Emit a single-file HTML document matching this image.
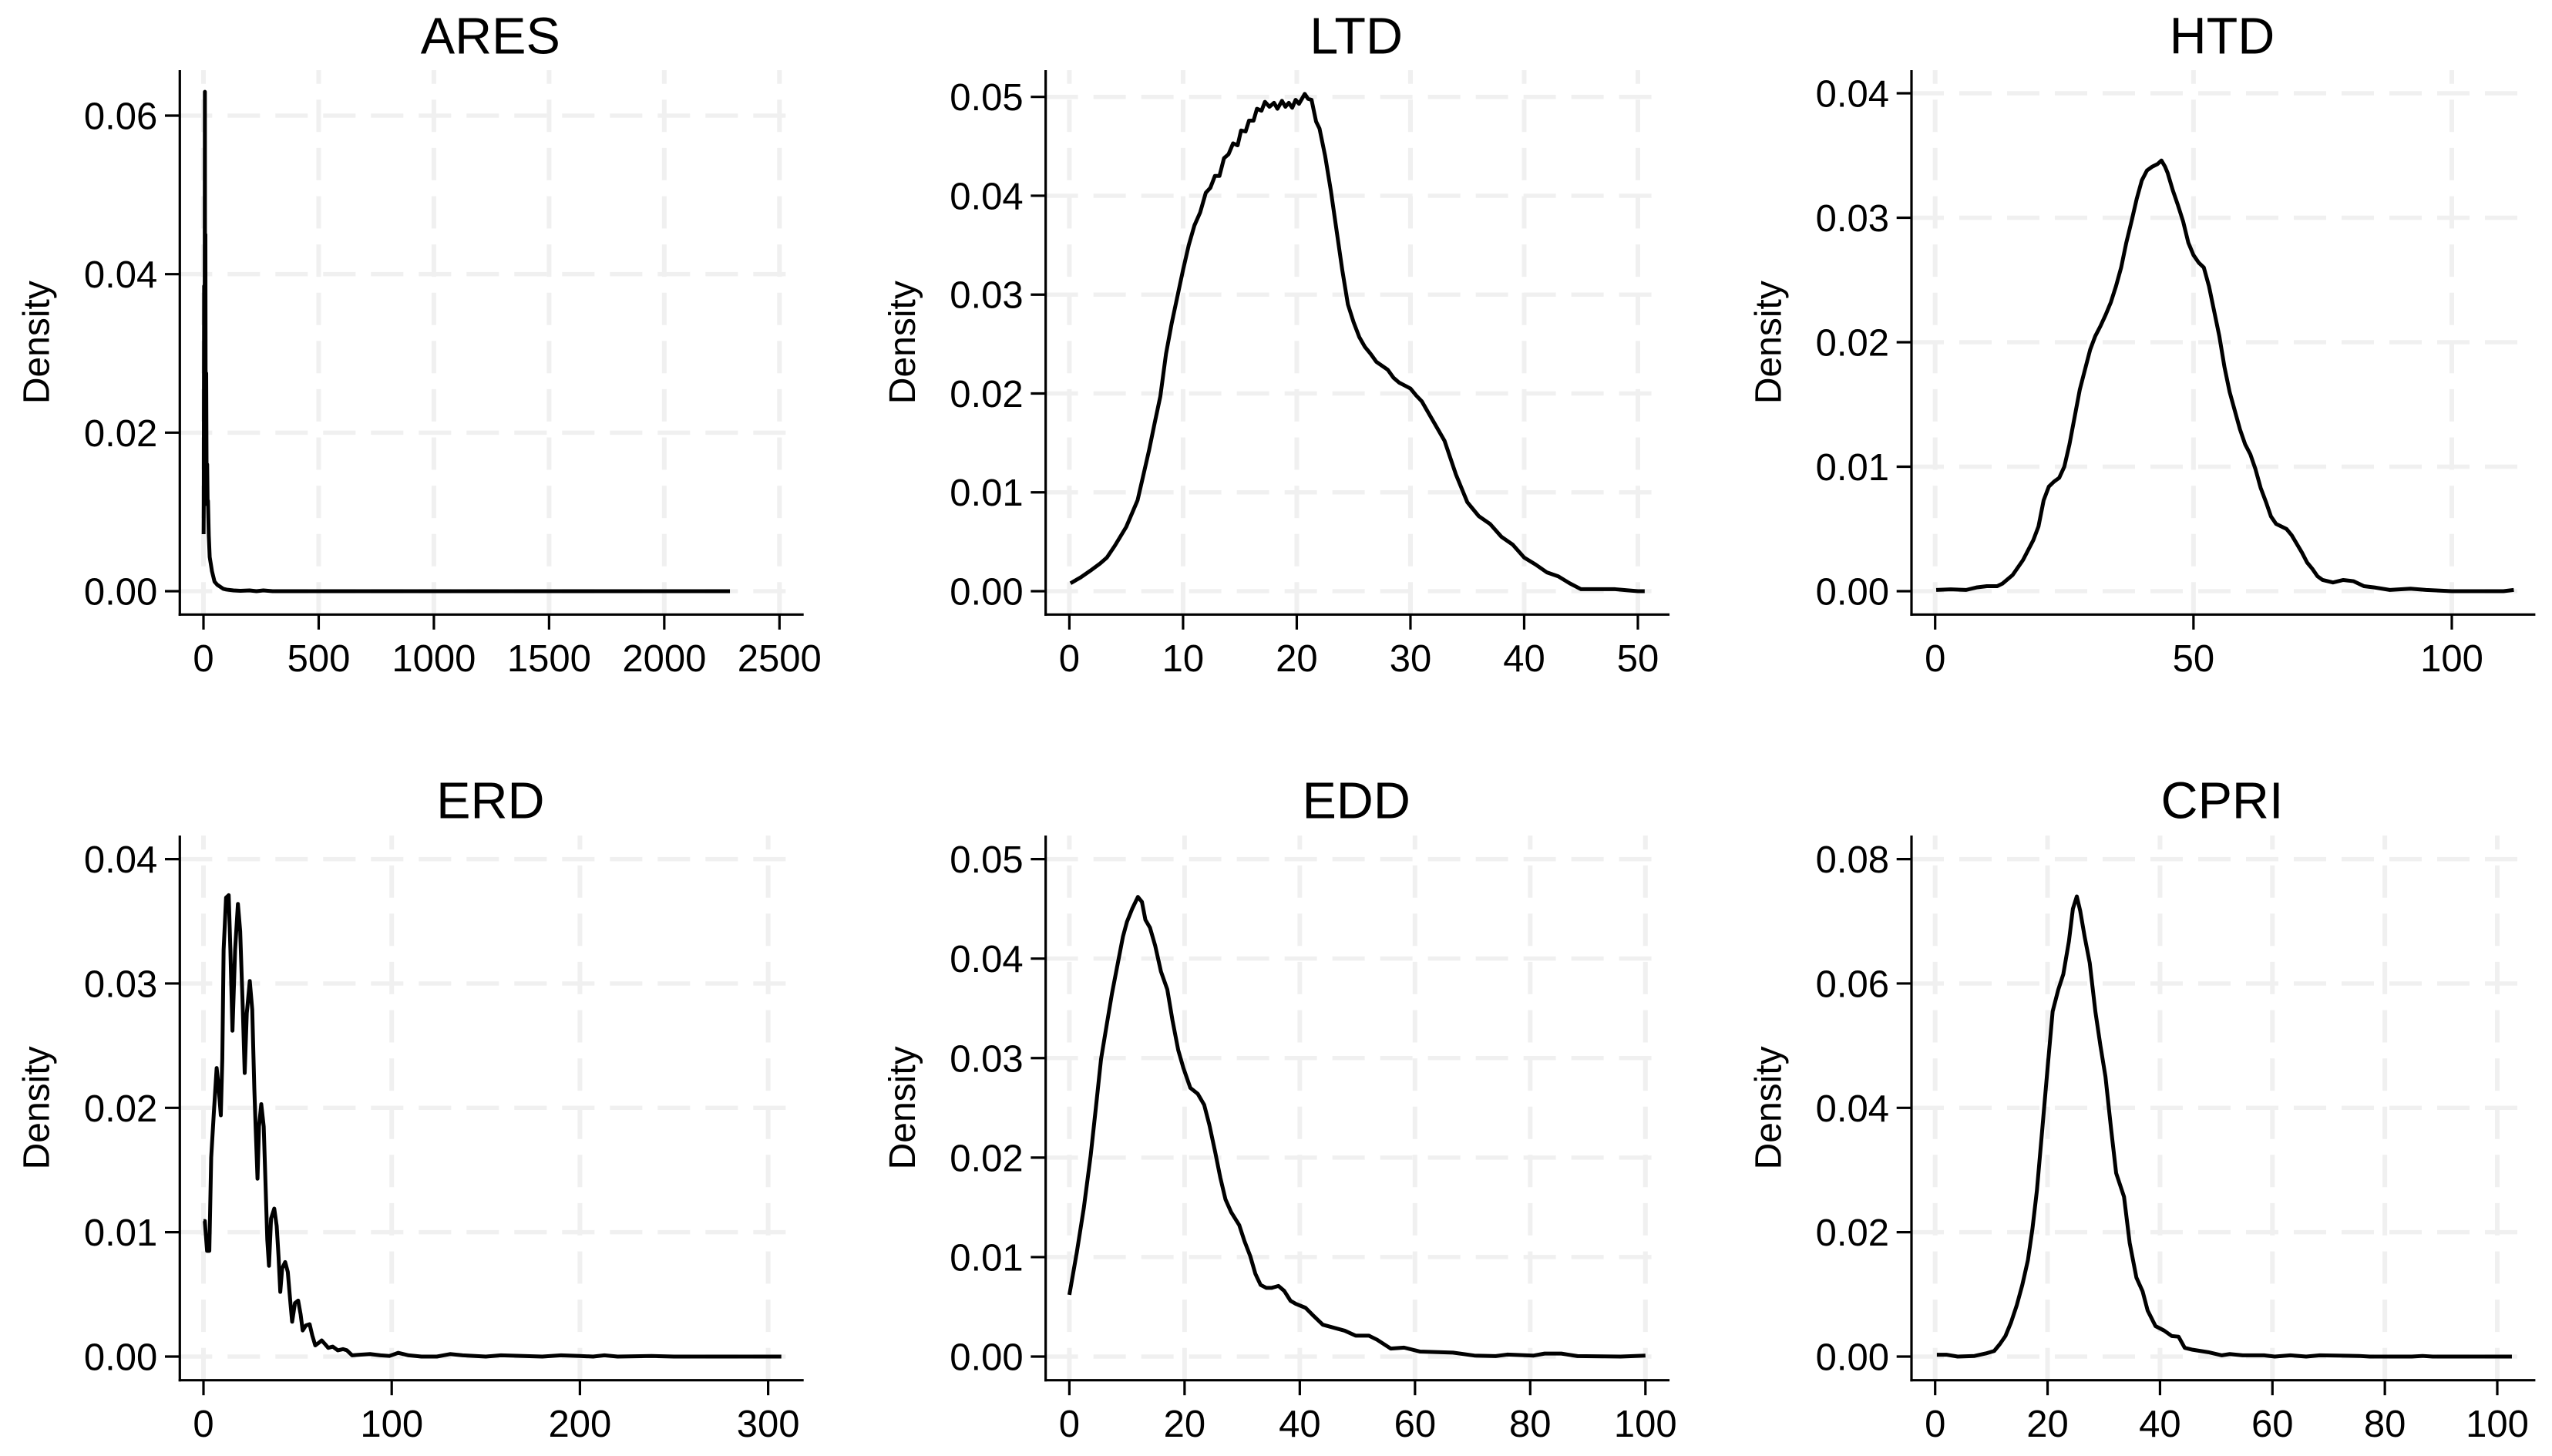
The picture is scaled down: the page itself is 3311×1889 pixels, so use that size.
<!DOCTYPE html>
<html lang="en">
<head>
<meta charset="utf-8">
<title>Density plots</title>
<style>
html,body{margin:0;padding:0;background:#fff;}
svg{display:block;font-family:"Liberation Sans",Arial,sans-serif;}
</style>
</head>
<body>
<svg id="figure" xmlns="http://www.w3.org/2000/svg" width="3311" height="1889" viewBox="0 0 3311 1889">
<rect x="0" y="0" width="3311" height="1889" fill="#ffffff"></rect>
</svg>
<script>
// ---------- chart data ----------
const aresX = [0.5,1.2,2.8,4.5,6.1,7.3,8.4,10,11.8,14,16,18,19.5,23,27,37,48,60,86,100,130,160,200,230,260,300,600,1200,2285];
const aresY = [0.0072,0.011,0.0385,0.012,0.063,0.011,0.045,0.011,0.0275,0.011,0.016,0.011,0.0114,0.007,0.0043,0.0025,0.0012,0.0008,0.0003,0.0002,0.0001,0.00005,0.0001,0,0.0001,0,0,0,0];
const aresXTicks = ["0","500","1000","1500","2000","2500"];
const aresYTicks = ["0.00","0.02","0.04","0.06"];

const ltdX = [0.1,1,2,2.7,3.3,4,5,6,6.5,7,7.5,8,8.5,9,9.5,10,10.5,11,11.5,12,12.4,12.8,13.2,13.6,14,14.4,14.8,15.1,15.5,15.8,16.2,16.5,16.9,17.2,17.6,18,18.3,18.7,19,19.3,19.6,19.9,20.2,20.7,21,21.3,21.7,22,22.5,23,23.5,24,24.5,25,25.5,26,26.5,27,27.5,28,28.5,29,29.5,30,30.5,31,31.5,32,33,34,35,36,37,38,39,40,41,42,43,44,45,46,47,48,49,50,50.6];
const ltdY = [0.0008,0.0014,0.0022,0.0028,0.0034,0.0046,0.0065,0.0092,0.0117,0.0142,0.017,0.0197,0.024,0.0271,0.0298,0.0325,0.035,0.037,0.0383,0.0403,0.0408,0.042,0.042,0.0438,0.0442,0.0453,0.0451,0.0466,0.0465,0.0476,0.0476,0.0488,0.0486,0.0495,0.049,0.0494,0.0488,0.0496,0.049,0.0494,0.0489,0.0497,0.0493,0.0503,0.0498,0.0497,0.0475,0.0468,0.044,0.0405,0.0365,0.0325,0.029,0.0272,0.0257,0.0247,0.024,0.0232,0.0228,0.0224,0.0216,0.0211,0.0208,0.0205,0.0198,0.0192,0.0182,0.0172,0.0152,0.0118,0.009,0.0076,0.0068,0.0055,0.0047,0.0034,0.0027,0.0019,0.0015,0.0008,0.0002,0.0002,0.0002,0.0002,0.0001,0,0];
const ltdXTicks = ["0","10","20","30","40","50"];
const ltdYTicks = ["0.00","0.01","0.02","0.03","0.04","0.05"];

const htdX = [0.2,3,6,8,10,12,13,15,17,19,20,21,22,23,24,25,26,27,28,29,30,31,32,33,34,35,36,37,38,39,40,41,42,43,43.8,44.5,45,46,47,48,49,50,51,52,53,54,55,56,57,58,59,60,61,62,63,64,65,66,67,68,69,70,71,72,73,74,75,77,79,81,83,85,88,92,95,100,105,110,112];
const htdY = [0.0001,0.00015,0.0001,0.0003,0.0004,0.0004,0.0006,0.0013,0.0025,0.0041,0.0052,0.0073,0.0084,0.0088,0.0091,0.01,0.0118,0.014,0.0162,0.0178,0.0194,0.0205,0.0213,0.0222,0.0232,0.0245,0.026,0.028,0.0297,0.0315,0.033,0.0338,0.0341,0.0343,0.0346,0.0341,0.0336,0.0322,0.031,0.0297,0.028,0.027,0.0264,0.026,0.0245,0.0225,0.0205,0.018,0.016,0.0145,0.013,0.0118,0.011,0.0098,0.0083,0.0072,0.006,0.0054,0.0052,0.005,0.0045,0.0038,0.0031,0.0023,0.0018,0.0012,0.0009,0.0007,0.0009,0.0008,0.0004,0.0003,0.0001,0.0002,0.0001,0,0,0,0.0001];
const htdXTicks = ["0","50","100"];
const htdYTicks = ["0.00","0.01","0.02","0.03","0.04"];

const erdX = [0,0.7,1.9,3.1,4.1,5.5,7,7.9,9.2,10,10.7,12,13.4,14.3,15.4,16.8,18.3,19.5,20.9,21.9,23,24.6,25.9,27,27.7,28.7,29.5,30.7,32,32.9,33.9,34.8,35.9,37.6,38.9,39.9,40.8,41.8,43.4,44.8,46.2,47.1,48.6,50.3,51.6,52.7,54.4,56.4,57.8,59.4,61.2,62.8,64.6,66.3,68.7,71.4,74.2,76.2,79,83,88.5,94,98.8,103.5,109,115.8,124,131,137.7,150,158,170,180,190,200,207,213,220,238,250,307];
const erdY = [0.0109,0.0109,0.0085,0.0085,0.016,0.0196,0.0232,0.0219,0.0194,0.0239,0.0327,0.0369,0.0371,0.0327,0.0262,0.0327,0.0364,0.0342,0.0279,0.0228,0.0276,0.0302,0.0279,0.0216,0.0185,0.0143,0.0185,0.0203,0.0185,0.0142,0.0094,0.0073,0.0111,0.0119,0.0105,0.008,0.0052,0.0071,0.0076,0.0068,0.0043,0.0028,0.0043,0.0045,0.0034,0.0021,0.0025,0.0026,0.0017,0.0009,0.0011,0.0013,0.001,0.0007,0.0008,0.0005,0.0006,0.0005,0.0001,0.00015,0.0002,0.0001,0.00005,0.0003,0.0001,0,0,0.0002,0.0001,0,0.0001,0.00005,0,0.0001,0.00005,0,0.0001,0,0.00005,0,0];
const erdXTicks = ["0","100","200","300"];
const erdYTicks = ["0.00","0.01","0.02","0.03","0.04"];

const eddX = [0,1.3,2.5,3.7,4.6,5.5,6.5,7.4,8.4,9.3,10,10.9,11.9,12.6,13.2,14,14.9,15.9,17,17.9,18.9,19.8,21,22.3,23.4,24.3,25.3,26.2,27.1,28.1,29.5,30.4,31.4,32.3,33.2,34.2,35.1,36.3,37.3,38.4,39.3,41,42.2,44,45.9,47.8,49.7,52,53.4,55.8,58.1,60.9,66.6,70.3,74,76,80.6,82.5,85.4,88.2,95.7,100];
const eddY = [0.0062,0.0105,0.0149,0.0202,0.025,0.0299,0.0334,0.0365,0.0395,0.0422,0.0437,0.045,0.0462,0.0457,0.0439,0.0431,0.0413,0.0387,0.0369,0.0338,0.0308,0.029,0.027,0.0264,0.0253,0.0233,0.0206,0.018,0.0158,0.0145,0.0132,0.0116,0.0101,0.0083,0.0072,0.0069,0.0069,0.0071,0.0066,0.0056,0.0053,0.0049,0.0042,0.0032,0.0029,0.0026,0.0021,0.0021,0.0017,0.0008,0.0009,0.0005,0.0004,0.0001,0.00005,0.0002,0.0001,0.0003,0.0003,0.00005,0,0.0001];
const eddXTicks = ["0","20","40","60","80","100"];
const eddYTicks = ["0.00","0.01","0.02","0.03","0.04","0.05"];

const cpriX = [0.3,2,4,7,9,10.5,11.5,12.5,13.5,14.5,15.5,16.5,17.3,18.1,19.06,20,20.9,21.9,22.8,23.8,24.5,25.2,25.8,26.6,27.5,28.5,29.4,30.3,31.3,32.2,33.6,34.6,35.8,36.9,37.8,39.2,40.7,42.1,43.3,44.4,45.8,48.6,51,52.4,54.7,58.5,60.4,63.2,66,68.4,75.4,77.3,84.8,86.7,88.5,102.6];
const cpriY = [0.0003,0.0003,0,0.0001,0.0005,0.0009,0.002,0.0033,0.0055,0.0082,0.0115,0.0155,0.0205,0.0267,0.0366,0.0464,0.0555,0.059,0.0615,0.0668,0.072,0.074,0.0717,0.0675,0.0633,0.0555,0.05,0.045,0.0366,0.0295,0.0257,0.0183,0.0127,0.0105,0.0074,0.0049,0.0042,0.0033,0.0032,0.0014,0.0011,0.0007,0.0002,0.0004,0.0002,0.0002,0,0.0002,0,0.0002,0.0001,0,0,0.0001,0,0];
const cpriXTicks = ["0","20","40","60","80","100"];
const cpriYTicks = ["0.00","0.02","0.04","0.06","0.08"];

// ---------- drawing ----------
const SVG_NS = 'http://www.w3.org/2000/svg';
const figure = document.getElementById('figure');

function mk(tag, attrs, parent) {
  const el = document.createElementNS(SVG_NS, tag);
  for (const k in attrs) el.setAttribute(k, attrs[k]);
  parent.appendChild(el);
  return el;
}

function linearAxis(d0, d1, p0, p1) {
  return function (v) { return p0 + (v - d0) * (p1 - p0) / (d1 - d0); };
}

function drawPanel(name, col, row, xs, ys, xTicks, yTicks, xZeroPx, xLastPx, yTopPx) {
  const colStep = 1123.35;
  const axisLeft = 233.3 + col * colStep;
  const axisRight = axisLeft + 809.4;
  const gridRight = axisLeft + 789.4;
  const axisBottom = row === 0 ? 797.3 : 1790.7;
  const axisTop = row === 0 ? 91 : 1084;
  const yZeroPx = row === 0 ? 767 : 1760;

  const xNums = xTicks.map(Number);
  const yNums = yTicks.map(Number);
  const xAxis = linearAxis(xNums[0], xNums[xNums.length - 1], xZeroPx, xLastPx);
  const yAxis = linearAxis(yNums[0], yNums[yNums.length - 1], yZeroPx, yTopPx);

  const g = mk('g', {}, figure);
  
  

  yNums.forEach(function (v) {
    const line = mk('line', {x1: axisLeft, x2: gridRight, y1: yAxis(v), y2: yAxis(v), stroke: '#f0f0f0', 'stroke-width': 5.5, 'stroke-dasharray': '42 20'}, g);
    
    
  });
  xNums.forEach(function (v) {
    const line = mk('line', {x1: xAxis(v), x2: xAxis(v), y1: axisBottom, y2: axisTop, stroke: '#f0f0f0', 'stroke-width': 6, 'stroke-dasharray': '42 20.6'}, g);
    
    
  });

  const pts = xs.map(function (x, i) { return xAxis(x).toFixed(2) + ',' + yAxis(ys[i]).toFixed(2); }).join(' ');
  const curve = mk('polyline', {points: pts, fill: 'none', stroke: '#000', 'stroke-width': 5, 'stroke-linejoin': 'round', 'stroke-linecap': 'butt'}, g);
  
  

  const yLine = mk('line', {x1: axisLeft, x2: axisLeft, y1: axisTop, y2: axisBottom + 1.6, stroke: '#000', 'stroke-width': 3.2}, g);
  
  

  const xLine = mk('line', {x1: axisLeft - 1.6, x2: axisRight, y1: axisBottom, y2: axisBottom, stroke: '#000', 'stroke-width': 3.2}, g);
  
  

  xTicks.forEach(function (label, i) {
    const px = xAxis(xNums[i]);
    const tick = mk('line', {x1: px, x2: px, y1: axisBottom, y2: axisBottom + 19.5, stroke: '#000', 'stroke-width': 3.2}, g);
    
    
    const text = mk('text', {x: px, y: axisBottom + 73.5, 'text-anchor': 'middle', 'font-size': 49, fill: '#000'}, g);
    text.textContent = label;
    
    
  });

  yTicks.forEach(function (label, i) {
    const py = yAxis(yNums[i]);
    const tick = mk('line', {x1: axisLeft - 19.3, x2: axisLeft, y1: py, y2: py, stroke: '#000', 'stroke-width': 3.2}, g);
    
    
    const text = mk('text', {x: axisLeft - 29, y: py + 17.5, 'text-anchor': 'end', 'font-size': 49, fill: '#000'}, g);
    text.textContent = label;
    
    
  });

  const yMid = (axisTop + axisBottom) / 2;
  const yTitleX = axisLeft - 169.7;
  const yTitle = mk('text', {x: yTitleX, y: yMid, 'text-anchor': 'middle', 'font-size': 48, fill: '#000', transform: 'rotate(-90 ' + yTitleX + ' ' + yMid + ')'}, g);
  yTitle.textContent = 'Density';
  
  

  const title = mk('text', {x: axisLeft + 403, y: row === 0 ? 69.5 : 1061.5, 'text-anchor': 'middle', 'font-size': 66.5, fill: '#000'}, g);
  title.textContent = name.toUpperCase();
  
  
}

drawPanel('ares', 0, 0, aresX, aresY, aresXTicks, aresYTicks, 264, 1011.3, 150);
drawPanel('ltd', 1, 0, ltdX, ltdY, ltdXTicks, ltdYTicks, 1387.4, 2125, 125.7);
drawPanel('htd', 2, 0, htdX, htdY, htdXTicks, htdYTicks, 2510.7, 3181, 121);
drawPanel('erd', 0, 1, erdX, erdY, erdXTicks, erdYTicks, 264, 996.6, 1114.6);
drawPanel('edd', 1, 1, eddX, eddY, eddXTicks, eddYTicks, 1387.4, 2134.8, 1114.6);
drawPanel('cpri', 2, 1, cpriX, cpriY, cpriXTicks, cpriYTicks, 2510.7, 3240, 1114.6);
</script>
</body>
</html>
